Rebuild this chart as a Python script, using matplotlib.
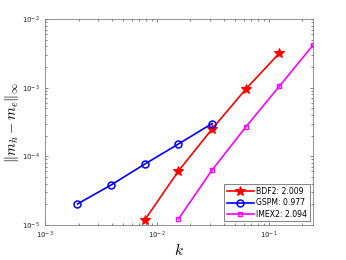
import matplotlib
matplotlib.use("Agg")
import matplotlib.pyplot as plt

plt.rcParams["mathtext.fontset"] = "cm"

# step sizes and errors
k_bdf2 = [1/128, 1/64, 1/32, 1/16, 1/8]
err_bdf2 = [1.18e-5, 6.1e-5, 2.5e-4, 9.5e-4, 3.19e-3]

k_gspm = [1/512, 1/256, 1/128, 1/64, 1/32]
err_gspm = [2.02e-5, 3.82e-5, 7.7e-5, 1.51e-4, 3.0e-4]

k_imex2 = [1/64, 1/32, 1/16, 1/8, 1/4]
err_imex2 = [1.22e-5, 6.3e-5, 2.67e-4, 1.05e-3, 4.17e-3]

labels = ["BDF2: 2.009", "GSPM: 0.977", "IMEX2: 2.094"]

fig = plt.figure(figsize=(3.46, 2.60), dpi=100)
ax = fig.add_axes([0.130, 0.135, 0.775, 0.792])

ax.loglog(k_bdf2, err_bdf2, "-*", color="red", lw=1.2, ms=7, mew=0.8, label=labels[0])
ax.loglog(k_gspm, err_gspm, "-o", color="blue", lw=1.2, ms=5, mfc="none", mew=1.1, label=labels[1])
ax.loglog(k_imex2, err_imex2, "-s", color="magenta", lw=1.2, ms=3.5, mfc="none", mew=1.0, label=labels[2])

ax.set_xlim(1e-3, 0.25)
ax.set_ylim(1e-5, 1e-2)

spine_col = "#808080"
for s in ax.spines.values():
    s.set_color(spine_col)
    s.set_linewidth(0.6)
ax.tick_params(which="both", direction="in", top=True, right=True,
               colors="#262626", labelsize=5, width=0.4)
ax.tick_params(which="major", length=2.5)
ax.tick_params(which="minor", length=1.3)
for t in ax.get_xticklabels() + ax.get_yticklabels():
    t.set_color("#262626")

ax.set_xlabel("$k$", fontsize=11, labelpad=1)
ax.set_ylabel(r"$\Vert m_h - m_e\Vert_\infty$", fontsize=10.5, labelpad=1)

leg = ax.legend(loc="lower right", fontsize=5.6, frameon=True, fancybox=False,
                edgecolor="#262626", borderpad=0.35, handlelength=3.4,
                handletextpad=0.3, labelspacing=0.3, borderaxespad=0.45)
leg.get_frame().set_linewidth(0.5)

fig.savefig("out.png", dpi=100, facecolor="white")
